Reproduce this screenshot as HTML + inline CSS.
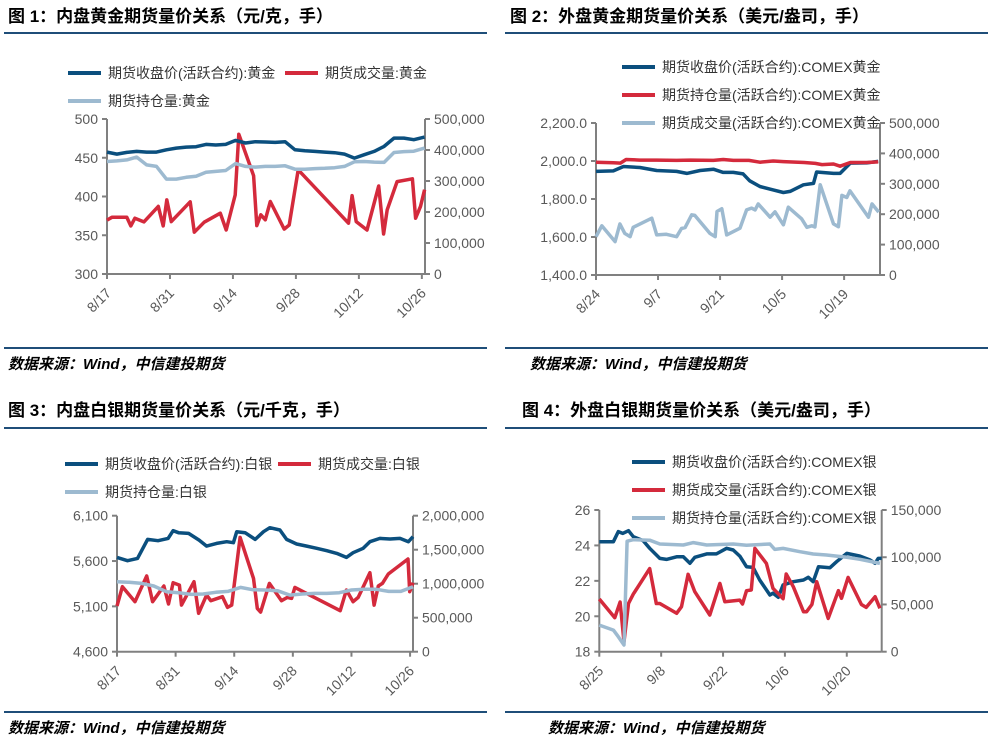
<!DOCTYPE html>
<html><head><meta charset="utf-8">
<style>
html,body{margin:0;padding:0;background:#fff;}
svg{display:block;font-family:"Liberation Sans","Noto Sans CJK SC",sans-serif;}
.t{font-weight:bold;font-size:17px;fill:#000;}
.src{font-weight:bold;font-style:italic;font-size:15px;fill:#000;}
.lg{font-size:14px;fill:#333;}
.tk{font-size:14px;fill:#595959;}
</style></head>
<body>
<svg id="root" width="993" height="746" viewBox="0 0 993 746">
<text class="t" x="8" y="22">图 1：内盘黄金期货量价关系（元/克，手）</text>
<line x1="4" y1="33" x2="487" y2="33" stroke="#1f4e79" stroke-width="2"/>
<text class="t" x="510" y="22">图 2：外盘黄金期货量价关系（美元/盎司，手）</text>
<line x1="505" y1="33" x2="988" y2="33" stroke="#1f4e79" stroke-width="2"/>
<line x1="4" y1="348" x2="487" y2="348" stroke="#1f4e79" stroke-width="2"/>
<line x1="505" y1="348" x2="988" y2="348" stroke="#1f4e79" stroke-width="2"/>
<text class="src" x="8" y="369">数据来源：Wind，中信建投期货</text>
<text class="src" x="530" y="369">数据来源：Wind，中信建投期货</text>
<text class="t" x="8" y="416">图 3：内盘白银期货量价关系（元/千克，手）</text>
<line x1="4" y1="428" x2="487" y2="428" stroke="#1f4e79" stroke-width="2"/>
<text class="t" x="522" y="416">图 4：外盘白银期货量价关系（美元/盎司，手）</text>
<line x1="505" y1="428" x2="988" y2="428" stroke="#1f4e79" stroke-width="2"/>
<line x1="4" y1="712" x2="487" y2="712" stroke="#1f4e79" stroke-width="2"/>
<line x1="505" y1="712" x2="988" y2="712" stroke="#1f4e79" stroke-width="2"/>
<text class="src" x="8" y="733">数据来源：Wind，中信建投期货</text>
<text class="src" x="548" y="733">数据来源：Wind，中信建投期货</text>
</svg>
<script>
// ---- Chart 1: domestic gold ----
const c1PriceDays = [0,2.2,4.4,6.6,8.8,11,13.2,15.4,17.6,19.8,22,24.2,26.4,28.6,30.8,33,35.2,37.4,39.6,41.8,44,46.2,48.4,50.6,52.8,55,57.2,59.4,61.6,63.8,66,68.2,70.6];
const c1Price = [457.3,454.7,456.9,458.2,457.3,457.3,460.3,462.5,463.8,464.2,467.2,466.4,467.2,472.4,469,470.7,470.3,469.8,470.7,460.3,459,458.2,457.3,456.5,454.7,449.6,453.9,458.2,464.7,475.4,475.4,473.3,476.7];
const c1OI = [363,365,368,377,352,347,306,306,312,315,328,331,334,356,347,345,347,347,349,338,338,340,341,343,347,362,363,361,360,392,395,396,406];
const c1VolDays = [0,1.1,4.4,5.3,6.2,8.2,11.4,12.5,13.3,14.3,18.5,19.4,21.6,25.2,26.5,28.5,29.3,32.6,33.3,34.2,35.2,36.3,39.4,40.5,42.5,53.7,54.5,55.4,57.8,60.4,61.5,62.3,64.5,67.9,68.6,69.7,70.6];
const c1Vol = [174,183,183,155,180,168,218,155,239,169,233,135,167,196,142,255,451,317,156,191,175,234,145,158,336,164,253,169,142,284,129,207,298,307,180,218,272];
const c1LeftTicks = [300,350,400,450,500];
const c1RightTicks = [0,100000,200000,300000,400000,500000];
const c1XTicks = [0,14,28,42,56,70];
const c1XLabels = ["8/17","8/31","9/14","9/28","10/12","10/26"];
// ---- Chart 2: COMEX gold ----
const c2PriceDays = [0,3.9,6.2,9.9,13.7,18.2,20.5,23.5,26.5,28.7,31,33.2,34.7,37,40,42.3,43.8,46.8,49.1,49.8,53.6,55.1,57.4,61.1,63.7];
const c2Price = [1945,1948,1971,1966,1950,1945,1935,1950,1957,1940,1940,1932,1896,1866,1848,1834,1840,1875,1882,1942,1935,1935,1989,1990,1998];
const c2OIDays = [0,3.9,5.5,6.8,9.9,13.7,18.2,21.3,26.5,28.7,31,34.5,37,40,42.3,47,49.5,51,53.6,55.1,57.4,61,63.7];
const c2OI = [371,369,368,380,378,378,377,378,377,380,377,377,371,375,373,370,367,363,365,358,370,370,372];
const c2VolDays = [0,1.3,4.3,5.4,6.5,7.7,8.4,12.6,13.7,15.9,18.2,19.3,20.1,21.6,22.3,25.7,26.9,27.3,28.4,29.5,32.5,34,35.1,35.9,36.6,39.3,40.4,42.3,43.4,46.4,47.6,48.7,49.4,50.6,53.6,54.7,55.5,56.6,57.3,61.5,62.3,63.8];
const c2Vol = [126,162,110,168,137,126,157,187,132,134,126,153,156,198,196,137,126,209,218,132,154,214,220,214,234,190,208,165,223,185,157,162,158,297,168,159,262,255,277,190,234,207];
const c2LeftTicks = [1400,1600,1800,2000,2200];
const c2RightTicks = [0,100000,200000,300000,400000,500000];
const c2XTicks = [0,14,28,42,56];
const c2XLabels = ["8/24","9/7","9/21","10/5","10/19"];
// ---- Chart 3: domestic silver ----
const c3PriceDays = [0,2.5,4.9,7.3,9.8,12.2,13.4,14.7,17.1,19.6,21.4,23.8,26.2,27.8,28.6,30.6,33,35,36.5,38.9,40.5,42.9,45.3,47.7,50.1,52.5,54.8,56.4,58.8,60.4,62.8,65.2,67.6,69.6,70.7];
const c3Price = [5640,5604,5629,5839,5824,5850,5935,5913,5905,5831,5765,5795,5813,5802,5924,5913,5839,5924,5968,5942,5839,5788,5765,5740,5714,5684,5640,5692,5740,5813,5850,5843,5850,5813,5868];
const c3OIDays = [0,2.9,5.9,8.8,11.8,14.7,17.7,20.6,23.6,26.5,29.5,32.4,35.4,38.3,41.3,44.2,47.2,50.1,53.1,56,59,61.9,64.9,67.8,70.7];
const c3OI = [1029,1020,1005,966,882,868,843,848,873,887,946,912,907,897,833,848,858,858,868,907,917,917,887,887,956];
const c3VolDays = [0,1.3,4.3,7.1,8.5,11.2,12.3,13.4,14.9,15.4,18.4,19.5,21.4,22.4,25.2,26.4,27.4,29.4,32.6,33.5,34.3,36.4,39.3,40.7,41.7,42.5,53.3,54.8,56.4,57.6,60.4,61.4,62.4,63.4,64.8,69.5,69.9,70.7];
const c3Vol = [672,956,735,1113,735,966,701,1015,980,686,1029,564,833,750,809,652,686,1681,1078,637,583,1005,750,799,784,946,603,907,735,799,1162,686,966,1005,1142,1363,882,1015];
const c3LeftTicks = [4600,5100,5600,6100];
const c3RightTicks = [0,500000,1000000,1500000,2000000];
const c3XTicks = [0,14,28,42,56,70];
const c3XLabels = ["8/17","8/31","9/14","9/28","10/12","10/26"];
// ---- Chart 4: COMEX silver ----
const c4PriceDays = [0,3.2,4.3,5.3,6.6,7.7,9.9,11.4,13.7,15.2,17.5,19,20.5,21.6,24.3,26.5,28.8,30.3,31.8,33.3,34.8,36.3,38.6,39.3,40.5,41.6,43.9,46.2,47.3,48.4,49.6,52.2,53.7,56,59,61.2,62.4,63.1,63.9];
const c4Price = [24.21,24.21,24.78,24.68,24.83,24.49,24.27,23.84,23.27,23.21,23.36,23.36,22.99,23.33,23.52,23.52,23.84,23.74,23.4,22.8,22.76,22.05,21.2,21.3,21.07,21.77,21.95,22.05,22.2,21.95,22.8,22.74,23.08,23.55,23.4,23.18,22.99,23.27,23.27];
const c4VolDays = [0,3.5,4.7,5.6,6.6,7.7,11.4,12.9,13.7,17.5,18.6,20.1,21.6,25,27.3,28.4,31.8,32.4,33.3,34.4,35.2,37.8,39.3,41.6,42.3,43.9,46.2,46.9,48.1,49.2,51.8,54.1,54.8,56.3,59.3,60.4,62.4,63.5];
const c4Vol = [55.8,36,52.6,10.6,51,61,88,51,51,40.6,47.6,81.9,63.5,38.8,72.3,52.9,54.6,50.5,64.6,65.3,109.4,93.5,67,56.1,82.2,68.8,42.3,42.3,50,74.1,35.3,64.6,56.5,78.7,50,46.9,58.2,45.9];
const c4OIDays = [0,3.2,4.3,5.6,6.3,7.7,11.4,13.7,19,21.3,24.3,30.3,33.3,38.6,39.7,41.6,45.4,48.4,51.4,56,59,63.5];
const c4OI = [28.2,22.9,15.9,7.1,117,118.6,118,114,113,115.5,113,114,112.7,114,108.3,109.4,105.9,103.4,102.4,99.9,97.8,93.5];
const c4LeftTicks = [18,20,22,24,26];
const c4RightTicks = [0,50000,100000,150000];
const c4XTicks = [0,14,28,42,56];
const c4XLabels = ["8/25","9/8","9/22","10/6","10/20"];

const NS = "http://www.w3.org/2000/svg";
const root = document.getElementById("root");
const DARK = "#0b4f7e", RED = "#d42a3c", LIGHT = "#9dbad0", AX = "#808080";
function mk(tag, attrs, parent) {
  const e = document.createElementNS(NS, tag);
  for (const k in attrs) e.setAttribute(k, attrs[k]);
  (parent || root).appendChild(e);
  return e;
}
function fmt(v, dec) {
  return v.toLocaleString("en-US", {minimumFractionDigits: dec, maximumFractionDigits: dec});
}
function drawChart(c) {
  const g = mk("g", {});
  
  
  const xS = d => c.x0 + (d - c.d0) / (c.d1 - c.d0) * (c.x1 - c.x0);
  const yL = v => c.yb + (v - c.lMin) / (c.lMax - c.lMin) * (c.yt - c.yb);
  const yR = v => c.yb + (v - c.rMin) / (c.rMax - c.rMin) * (c.yt - c.yb);
  const la = mk("line", {x1: c.x0, y1: c.yt, x2: c.x0, y2: c.yb, stroke: AX, "stroke-width": 2}, g);
  
  
  const ra = mk("line", {x1: c.x1, y1: c.yt, x2: c.x1, y2: c.yb, stroke: AX, "stroke-width": 2}, g);
  
  
  const xa = mk("line", {x1: c.x0, y1: c.yb, x2: c.x1, y2: c.yb, stroke: AX, "stroke-width": 2}, g);
  
  
  c.lTicks.forEach(v => {
    const y = yL(v);
    mk("line", {x1: c.x0 - 5, y1: y, x2: c.x0, y2: y, stroke: AX, "stroke-width": 2}, g);
    const t = mk("text", {x: c.x0 - 9, y: y + 5, "text-anchor": "end", class: "tk"}, g);
    t.textContent = fmt(v, c.lDec);
    
    
  });
  c.rTicks.forEach(v => {
    const y = yR(v);
    mk("line", {x1: c.x1, y1: y, x2: c.x1 + 5, y2: y, stroke: AX, "stroke-width": 2}, g);
    const t = mk("text", {x: c.x1 + 9, y: y + 5, class: "tk"}, g);
    t.textContent = fmt(v, 0);
    
    
  });
  c.xTicks.forEach((d, i) => {
    const x = xS(d);
    mk("line", {x1: x, y1: c.yb, x2: x, y2: c.yb + 5, stroke: AX, "stroke-width": 2}, g);
    const ax = x + 5, ay = c.yb + 20;
    const t = mk("text", {x: ax, y: ay, "text-anchor": "end", class: "tk", transform: "rotate(-45 " + ax + " " + ay + ")"}, g);
    t.textContent = c.xLabels[i];
    
    
  });
  c.series.forEach(s => {
    const sc = s.axis === "L" ? yL : yR;
    const pts = s.days.map((d, i) => xS(d).toFixed(1) + "," + sc(s.vals[i] * s.mul).toFixed(1)).join(" ");
    const p = mk("polyline", {points: pts, fill: "none", stroke: s.color, "stroke-width": 3.5, "stroke-linejoin": "round"}, g);
    
    
  });
  c.legend.forEach(l => {
    mk("line", {x1: l.x, y1: l.y, x2: l.x + 33, y2: l.y, stroke: l.color, "stroke-width": 4}, g);
    const t = mk("text", {x: l.x + 40, y: l.y + 5, class: "lg"}, g);
    t.textContent = l.text;
    
    
  });
}

drawChart({id: "chart1", x0: 107, x1: 425, d0: 0, d1: 70.7, yt: 119, yb: 274, lMin: 300, lMax: 500, rMin: 0, rMax: 500000, lDec: 0,
  lTicks: c1LeftTicks, rTicks: c1RightTicks, xTicks: c1XTicks, xLabels: c1XLabels,
  series: [
    {name: "series-volume", days: c1VolDays, vals: c1Vol, mul: 1000, axis: "R", color: RED},
    {name: "series-open-interest", days: c1PriceDays, vals: c1OI, mul: 1000, axis: "R", color: LIGHT},
    {name: "series-close-price", days: c1PriceDays, vals: c1Price, mul: 1, axis: "L", color: DARK}],
  legend: [{x: 68, y: 73, color: DARK, text: "期货收盘价(活跃合约):黄金"}, {x: 285, y: 73, color: RED, text: "期货成交量:黄金"}, {x: 68, y: 101, color: LIGHT, text: "期货持仓量:黄金"}]});

drawChart({id: "chart2", x0: 596, x1: 880, d0: 0, d1: 64.1, yt: 123, yb: 275, lMin: 1400, lMax: 2200, rMin: 0, rMax: 500000, lDec: 1,
  lTicks: c2LeftTicks, rTicks: c2RightTicks, xTicks: c2XTicks, xLabels: c2XLabels,
  series: [
    {name: "series-volume", days: c2VolDays, vals: c2Vol, mul: 1000, axis: "R", color: LIGHT},
    {name: "series-close-price", days: c2PriceDays, vals: c2Price, mul: 1, axis: "L", color: DARK},
    {name: "series-open-interest", days: c2OIDays, vals: c2OI, mul: 1000, axis: "R", color: RED}],
  legend: [{x: 622, y: 67, color: DARK, text: "期货收盘价(活跃合约):COMEX黄金"}, {x: 622, y: 95, color: RED, text: "期货持仓量(活跃合约):COMEX黄金"}, {x: 622, y: 123, color: LIGHT, text: "期货成交量(活跃合约):COMEX黄金"}]});

drawChart({id: "chart3", x0: 117, x1: 413, d0: 0, d1: 70.7, yt: 515.7, yb: 651.7, lMin: 4600, lMax: 6100, rMin: 0, rMax: 2000000, lDec: 0,
  lTicks: c3LeftTicks, rTicks: c3RightTicks, xTicks: c3XTicks, xLabels: c3XLabels,
  series: [
    {name: "series-volume", days: c3VolDays, vals: c3Vol, mul: 1000, axis: "R", color: RED},
    {name: "series-open-interest", days: c3OIDays, vals: c3OI, mul: 1000, axis: "R", color: LIGHT},
    {name: "series-close-price", days: c3PriceDays, vals: c3Price, mul: 1, axis: "L", color: DARK}],
  legend: [{x: 65, y: 464, color: DARK, text: "期货收盘价(活跃合约):白银"}, {x: 278, y: 464, color: RED, text: "期货成交量:白银"}, {x: 65, y: 492, color: LIGHT, text: "期货持仓量:白银"}]});

drawChart({id: "chart4", x0: 599.3, x1: 881.7, d0: 0, d1: 63.9, yt: 510, yb: 651.7, lMin: 18, lMax: 26, rMin: 0, rMax: 150000, lDec: 0,
  lTicks: c4LeftTicks, rTicks: c4RightTicks, xTicks: c4XTicks, xLabels: c4XLabels,
  series: [
    {name: "series-close-price", days: c4PriceDays, vals: c4Price, mul: 1, axis: "L", color: DARK},
    {name: "series-volume", days: c4VolDays, vals: c4Vol, mul: 1000, axis: "R", color: RED},
    {name: "series-open-interest", days: c4OIDays, vals: c4OI, mul: 1000, axis: "R", color: LIGHT}],
  legend: [{x: 632, y: 462, color: DARK, text: "期货收盘价(活跃合约):COMEX银"}, {x: 632, y: 490, color: RED, text: "期货成交量(活跃合约):COMEX银"}, {x: 632, y: 518, color: LIGHT, text: "期货持仓量(活跃合约):COMEX银"}]});
</script>
</body></html>
